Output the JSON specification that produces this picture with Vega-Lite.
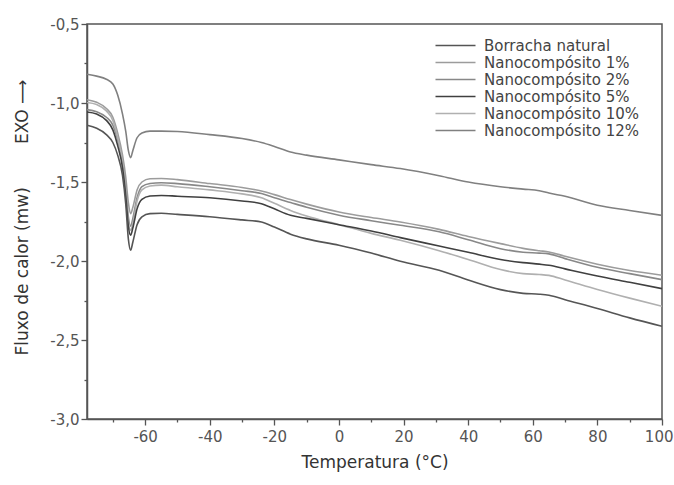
{
  "$schema": "https://vega.github.io/schema/vega-lite/v6.json",
  "width": 575,
  "height": 395,
  "autosize": {"type": "none"},
  "padding": {"left": 87, "top": 24, "right": 12, "bottom": 66},
  "background": "white",
  "config": {
    "view": {"stroke": "#555", "strokeWidth": 1.5},
    "font": "DejaVu Sans"
  },
  "datasets": {
    "curves": [
      {"s": "Nanocompósito 12%", "t": -78, "v": -0.818}, {"s": "Nanocompósito 12%", "t": -75, "v": -0.83}, {"s": "Nanocompósito 12%", "t": -72, "v": -0.85}, {"s": "Nanocompósito 12%", "t": -70, "v": -0.88}, {"s": "Nanocompósito 12%", "t": -68.5, "v": -0.95}, {"s": "Nanocompósito 12%", "t": -67, "v": -1.07}, {"s": "Nanocompósito 12%", "t": -66, "v": -1.18}, {"s": "Nanocompósito 12%", "t": -65.2, "v": -1.3}, {"s": "Nanocompósito 12%", "t": -64.5, "v": -1.346}, {"s": "Nanocompósito 12%", "t": -63.8, "v": -1.3}, {"s": "Nanocompósito 12%", "t": -62.5, "v": -1.22}, {"s": "Nanocompósito 12%", "t": -61, "v": -1.19}, {"s": "Nanocompósito 12%", "t": -58.5, "v": -1.178}, {"s": "Nanocompósito 12%", "t": -55, "v": -1.178}, {"s": "Nanocompósito 12%", "t": -50, "v": -1.18}, {"s": "Nanocompósito 12%", "t": -40, "v": -1.2}, {"s": "Nanocompósito 12%", "t": -30, "v": -1.225}, {"s": "Nanocompósito 12%", "t": -24, "v": -1.25}, {"s": "Nanocompósito 12%", "t": -20, "v": -1.275}, {"s": "Nanocompósito 12%", "t": -15, "v": -1.31}, {"s": "Nanocompósito 12%", "t": -10, "v": -1.33}, {"s": "Nanocompósito 12%", "t": 0, "v": -1.36}, {"s": "Nanocompósito 12%", "t": 10, "v": -1.39}, {"s": "Nanocompósito 12%", "t": 19, "v": -1.415}, {"s": "Nanocompósito 12%", "t": 31, "v": -1.46}, {"s": "Nanocompósito 12%", "t": 40, "v": -1.5}, {"s": "Nanocompósito 12%", "t": 50, "v": -1.53}, {"s": "Nanocompósito 12%", "t": 57, "v": -1.545}, {"s": "Nanocompósito 12%", "t": 62, "v": -1.555}, {"s": "Nanocompósito 12%", "t": 65, "v": -1.57}, {"s": "Nanocompósito 12%", "t": 70, "v": -1.59}, {"s": "Nanocompósito 12%", "t": 80, "v": -1.647}, {"s": "Nanocompósito 12%", "t": 90, "v": -1.68}, {"s": "Nanocompósito 12%", "t": 100, "v": -1.711},

      {"s": "Nanocompósito 1%", "t": -78, "v": -0.979}, {"s": "Nanocompósito 1%", "t": -75, "v": -0.995}, {"s": "Nanocompósito 1%", "t": -72, "v": -1.035}, {"s": "Nanocompósito 1%", "t": -70, "v": -1.09}, {"s": "Nanocompósito 1%", "t": -68.5, "v": -1.19}, {"s": "Nanocompósito 1%", "t": -67, "v": -1.33}, {"s": "Nanocompósito 1%", "t": -66, "v": -1.47}, {"s": "Nanocompósito 1%", "t": -65.2, "v": -1.63}, {"s": "Nanocompósito 1%", "t": -64.5, "v": -1.7}, {"s": "Nanocompósito 1%", "t": -63.8, "v": -1.66}, {"s": "Nanocompósito 1%", "t": -62.5, "v": -1.55}, {"s": "Nanocompósito 1%", "t": -61, "v": -1.5}, {"s": "Nanocompósito 1%", "t": -58.5, "v": -1.479}, {"s": "Nanocompósito 1%", "t": -55, "v": -1.478}, {"s": "Nanocompósito 1%", "t": -50, "v": -1.485}, {"s": "Nanocompósito 1%", "t": -40, "v": -1.51}, {"s": "Nanocompósito 1%", "t": -30, "v": -1.535}, {"s": "Nanocompósito 1%", "t": -24, "v": -1.557}, {"s": "Nanocompósito 1%", "t": -20, "v": -1.58}, {"s": "Nanocompósito 1%", "t": -15, "v": -1.611}, {"s": "Nanocompósito 1%", "t": -10, "v": -1.64}, {"s": "Nanocompósito 1%", "t": 0, "v": -1.69}, {"s": "Nanocompósito 1%", "t": 10, "v": -1.725}, {"s": "Nanocompósito 1%", "t": 19, "v": -1.753}, {"s": "Nanocompósito 1%", "t": 31, "v": -1.8}, {"s": "Nanocompósito 1%", "t": 40, "v": -1.845}, {"s": "Nanocompósito 1%", "t": 50, "v": -1.89}, {"s": "Nanocompósito 1%", "t": 57, "v": -1.92}, {"s": "Nanocompósito 1%", "t": 62, "v": -1.935}, {"s": "Nanocompósito 1%", "t": 65, "v": -1.943}, {"s": "Nanocompósito 1%", "t": 70, "v": -1.97}, {"s": "Nanocompósito 1%", "t": 80, "v": -2.02}, {"s": "Nanocompósito 1%", "t": 90, "v": -2.06}, {"s": "Nanocompósito 1%", "t": 100, "v": -2.09},

      {"s": "Nanocompósito 2%", "t": -78, "v": -1.042}, {"s": "Nanocompósito 2%", "t": -75, "v": -1.055}, {"s": "Nanocompósito 2%", "t": -72, "v": -1.09}, {"s": "Nanocompósito 2%", "t": -70, "v": -1.14}, {"s": "Nanocompósito 2%", "t": -68.5, "v": -1.23}, {"s": "Nanocompósito 2%", "t": -67, "v": -1.37}, {"s": "Nanocompósito 2%", "t": -66, "v": -1.53}, {"s": "Nanocompósito 2%", "t": -65.2, "v": -1.72}, {"s": "Nanocompósito 2%", "t": -64.5, "v": -1.78}, {"s": "Nanocompósito 2%", "t": -63.8, "v": -1.73}, {"s": "Nanocompósito 2%", "t": -62.5, "v": -1.6}, {"s": "Nanocompósito 2%", "t": -61, "v": -1.53}, {"s": "Nanocompósito 2%", "t": -58.5, "v": -1.51}, {"s": "Nanocompósito 2%", "t": -55, "v": -1.505}, {"s": "Nanocompósito 2%", "t": -50, "v": -1.51}, {"s": "Nanocompósito 2%", "t": -40, "v": -1.53}, {"s": "Nanocompósito 2%", "t": -30, "v": -1.555}, {"s": "Nanocompósito 2%", "t": -24, "v": -1.573}, {"s": "Nanocompósito 2%", "t": -20, "v": -1.6}, {"s": "Nanocompósito 2%", "t": -15, "v": -1.63}, {"s": "Nanocompósito 2%", "t": -10, "v": -1.66}, {"s": "Nanocompósito 2%", "t": 0, "v": -1.71}, {"s": "Nanocompósito 2%", "t": 10, "v": -1.745}, {"s": "Nanocompósito 2%", "t": 19, "v": -1.774}, {"s": "Nanocompósito 2%", "t": 31, "v": -1.815}, {"s": "Nanocompósito 2%", "t": 40, "v": -1.865}, {"s": "Nanocompósito 2%", "t": 50, "v": -1.922}, {"s": "Nanocompósito 2%", "t": 57, "v": -1.945}, {"s": "Nanocompósito 2%", "t": 62, "v": -1.95}, {"s": "Nanocompósito 2%", "t": 65, "v": -1.955}, {"s": "Nanocompósito 2%", "t": 70, "v": -1.985}, {"s": "Nanocompósito 2%", "t": 80, "v": -2.04}, {"s": "Nanocompósito 2%", "t": 90, "v": -2.08}, {"s": "Nanocompósito 2%", "t": 100, "v": -2.118},

      {"s": "Nanocompósito 10%", "t": -78, "v": -0.997}, {"s": "Nanocompósito 10%", "t": -75, "v": -1.01}, {"s": "Nanocompósito 10%", "t": -72, "v": -1.05}, {"s": "Nanocompósito 10%", "t": -70, "v": -1.11}, {"s": "Nanocompósito 10%", "t": -68.5, "v": -1.22}, {"s": "Nanocompósito 10%", "t": -67, "v": -1.37}, {"s": "Nanocompósito 10%", "t": -66, "v": -1.55}, {"s": "Nanocompósito 10%", "t": -65.2, "v": -1.75}, {"s": "Nanocompósito 10%", "t": -64.5, "v": -1.806}, {"s": "Nanocompósito 10%", "t": -63.8, "v": -1.76}, {"s": "Nanocompósito 10%", "t": -62.5, "v": -1.62}, {"s": "Nanocompósito 10%", "t": -61, "v": -1.55}, {"s": "Nanocompósito 10%", "t": -58.5, "v": -1.525}, {"s": "Nanocompósito 10%", "t": -55, "v": -1.52}, {"s": "Nanocompósito 10%", "t": -50, "v": -1.53}, {"s": "Nanocompósito 10%", "t": -40, "v": -1.55}, {"s": "Nanocompósito 10%", "t": -30, "v": -1.575}, {"s": "Nanocompósito 10%", "t": -24, "v": -1.6}, {"s": "Nanocompósito 10%", "t": -20, "v": -1.635}, {"s": "Nanocompósito 10%", "t": -15, "v": -1.68}, {"s": "Nanocompósito 10%", "t": -10, "v": -1.715}, {"s": "Nanocompósito 10%", "t": 0, "v": -1.77}, {"s": "Nanocompósito 10%", "t": 10, "v": -1.825}, {"s": "Nanocompósito 10%", "t": 19, "v": -1.869}, {"s": "Nanocompósito 10%", "t": 31, "v": -1.935}, {"s": "Nanocompósito 10%", "t": 40, "v": -1.99}, {"s": "Nanocompósito 10%", "t": 50, "v": -2.054}, {"s": "Nanocompósito 10%", "t": 57, "v": -2.08}, {"s": "Nanocompósito 10%", "t": 62, "v": -2.085}, {"s": "Nanocompósito 10%", "t": 65, "v": -2.091}, {"s": "Nanocompósito 10%", "t": 70, "v": -2.12}, {"s": "Nanocompósito 10%", "t": 80, "v": -2.18}, {"s": "Nanocompósito 10%", "t": 90, "v": -2.235}, {"s": "Nanocompósito 10%", "t": 100, "v": -2.287},

      {"s": "Nanocompósito 5%", "t": -78, "v": -1.057}, {"s": "Nanocompósito 5%", "t": -75, "v": -1.07}, {"s": "Nanocompósito 5%", "t": -72, "v": -1.11}, {"s": "Nanocompósito 5%", "t": -70, "v": -1.17}, {"s": "Nanocompósito 5%", "t": -68.5, "v": -1.27}, {"s": "Nanocompósito 5%", "t": -67, "v": -1.41}, {"s": "Nanocompósito 5%", "t": -66, "v": -1.59}, {"s": "Nanocompósito 5%", "t": -65.2, "v": -1.78}, {"s": "Nanocompósito 5%", "t": -64.5, "v": -1.837}, {"s": "Nanocompósito 5%", "t": -63.8, "v": -1.79}, {"s": "Nanocompósito 5%", "t": -62.5, "v": -1.67}, {"s": "Nanocompósito 5%", "t": -61, "v": -1.61}, {"s": "Nanocompósito 5%", "t": -58.5, "v": -1.589}, {"s": "Nanocompósito 5%", "t": -55, "v": -1.585}, {"s": "Nanocompósito 5%", "t": -50, "v": -1.59}, {"s": "Nanocompósito 5%", "t": -40, "v": -1.6}, {"s": "Nanocompósito 5%", "t": -30, "v": -1.62}, {"s": "Nanocompósito 5%", "t": -24, "v": -1.637}, {"s": "Nanocompósito 5%", "t": -20, "v": -1.67}, {"s": "Nanocompósito 5%", "t": -15, "v": -1.711}, {"s": "Nanocompósito 5%", "t": -10, "v": -1.73}, {"s": "Nanocompósito 5%", "t": 0, "v": -1.77}, {"s": "Nanocompósito 5%", "t": 10, "v": -1.81}, {"s": "Nanocompósito 5%", "t": 19, "v": -1.852}, {"s": "Nanocompósito 5%", "t": 31, "v": -1.905}, {"s": "Nanocompósito 5%", "t": 40, "v": -1.945}, {"s": "Nanocompósito 5%", "t": 50, "v": -1.991}, {"s": "Nanocompósito 5%", "t": 57, "v": -2.01}, {"s": "Nanocompósito 5%", "t": 62, "v": -2.02}, {"s": "Nanocompósito 5%", "t": 65, "v": -2.027}, {"s": "Nanocompósito 5%", "t": 70, "v": -2.05}, {"s": "Nanocompósito 5%", "t": 80, "v": -2.095}, {"s": "Nanocompósito 5%", "t": 90, "v": -2.135}, {"s": "Nanocompósito 5%", "t": 100, "v": -2.175},

      {"s": "Borracha natural", "t": -78, "v": -1.141}, {"s": "Borracha natural", "t": -75, "v": -1.16}, {"s": "Borracha natural", "t": -72, "v": -1.2}, {"s": "Borracha natural", "t": -70, "v": -1.25}, {"s": "Borracha natural", "t": -68.5, "v": -1.33}, {"s": "Borracha natural", "t": -67, "v": -1.46}, {"s": "Borracha natural", "t": -66, "v": -1.64}, {"s": "Borracha natural", "t": -65.2, "v": -1.86}, {"s": "Borracha natural", "t": -64.5, "v": -1.932}, {"s": "Borracha natural", "t": -63.8, "v": -1.88}, {"s": "Borracha natural", "t": -62.5, "v": -1.77}, {"s": "Borracha natural", "t": -61, "v": -1.72}, {"s": "Borracha natural", "t": -58.5, "v": -1.7}, {"s": "Borracha natural", "t": -55, "v": -1.698}, {"s": "Borracha natural", "t": -50, "v": -1.705}, {"s": "Borracha natural", "t": -40, "v": -1.72}, {"s": "Borracha natural", "t": -30, "v": -1.74}, {"s": "Borracha natural", "t": -24, "v": -1.753}, {"s": "Borracha natural", "t": -20, "v": -1.785}, {"s": "Borracha natural", "t": -15, "v": -1.83}, {"s": "Borracha natural", "t": -10, "v": -1.86}, {"s": "Borracha natural", "t": 0, "v": -1.9}, {"s": "Borracha natural", "t": 10, "v": -1.95}, {"s": "Borracha natural", "t": 19, "v": -2.002}, {"s": "Borracha natural", "t": 31, "v": -2.059}, {"s": "Borracha natural", "t": 40, "v": -2.12}, {"s": "Borracha natural", "t": 50, "v": -2.181}, {"s": "Borracha natural", "t": 57, "v": -2.205}, {"s": "Borracha natural", "t": 62, "v": -2.21}, {"s": "Borracha natural", "t": 65, "v": -2.217}, {"s": "Borracha natural", "t": 70, "v": -2.245}, {"s": "Borracha natural", "t": 80, "v": -2.3}, {"s": "Borracha natural", "t": 90, "v": -2.36}, {"s": "Borracha natural", "t": 100, "v": -2.413}
    ]
  },
  "data": {"name": "curves"},
  "mark": {"type": "line", "strokeWidth": 1.6, "interpolate": "monotone", "clip": true},
  "encoding": {
    "x": {
      "field": "t", "type": "quantitative",
      "scale": {"domain": [-78, 100], "nice": false, "zero": false},
      "axis": {
        "title": "Temperatura (°C)",
        "titleFont": "DejaVu Sans", "titleFontSize": 17, "titleFontWeight": "normal", "titleColor": "#333", "titlePadding": 10,
        "values": [-70, -60, -50, -40, -30, -20, -10, 0, 10, 20, 30, 40, 50, 60, 70, 80, 90, 100],
        "labelExpr": "datum.value % 20 == 0 ? replace(format(datum.value, 'd'), '−', '-') : ''",
        "labelFont": "DejaVu Sans", "labelFontSize": 15, "labelColor": "#555", "labelPadding": 4,
        "labelFlush": true, "labelFlushOffset": 11,
        "tickSize": {"condition": {"test": "datum.value % 20 == 0", "value": 6}, "value": 3},
        "tickColor": "#555", "tickWidth": 1.3, "domainColor": "#555", "domainWidth": 1.5,
        "grid": false, "labelOverlap": false
      }
    },
    "y": {
      "field": "v", "type": "quantitative",
      "scale": {"domain": [-3, -0.5], "nice": false, "zero": false},
      "axis": {
        "title": "Fluxo de calor (mw)\u00a0\u00a0\u00a0\u00a0\u00a0\u00a0\u00a0\u00a0EXO ⟶",
        "titleFont": "DejaVu Sans", "titleFontSize": 17, "titleFontWeight": "normal", "titleColor": "#333",
        "titleX": -65, "titleY": 193, "titleBaseline": "middle", "titleAlign": "center", "titleAngle": -90,
        "values": [-3, -2.75, -2.5, -2.25, -2, -1.75, -1.5, -1.25, -1, -0.75, -0.5],
        "labelExpr": "(datum.value * 4) % 2 == 0 ? replace(replace(format(datum.value, '.1f'), '.', ','), '−', '-') : ''",
        "labelFont": "DejaVu Sans", "labelFontSize": 15, "labelColor": "#555", "labelPadding": 2,
        "tickSize": {"condition": {"test": "(datum.value * 4) % 2 == 0", "value": 6}, "value": 3},
        "tickColor": "#555", "tickWidth": 1.3, "domainColor": "#555", "domainWidth": 1.5,
        "grid": false, "labelOverlap": false, "labelFlush": false
      }
    },
    "color": {
      "field": "s", "type": "nominal",
      "sort": ["Borracha natural", "Nanocompósito 1%", "Nanocompósito 2%", "Nanocompósito 5%", "Nanocompósito 10%", "Nanocompósito 12%"],
      "scale": {
        "domain": ["Borracha natural", "Nanocompósito 1%", "Nanocompósito 2%", "Nanocompósito 5%", "Nanocompósito 10%", "Nanocompósito 12%"],
        "range": ["#555555", "#9c9c9c", "#888888", "#404040", "#b0b0b0", "#808080"]
      },
      "legend": {
        "title": null,
        "orient": "none", "legendX": 346, "legendY": 14,
        "symbolType": "M-1,0H7", "symbolSize": 100, "symbolStrokeWidth": 1.6, "symbolFillColor": "transparent",
        "labelOffset": 36, "labelFont": "DejaVu Sans", "labelFontSize": 15, "labelColor": "#444",
        "rowPadding": 1, "padding": 0
      }
    }
  }
}
